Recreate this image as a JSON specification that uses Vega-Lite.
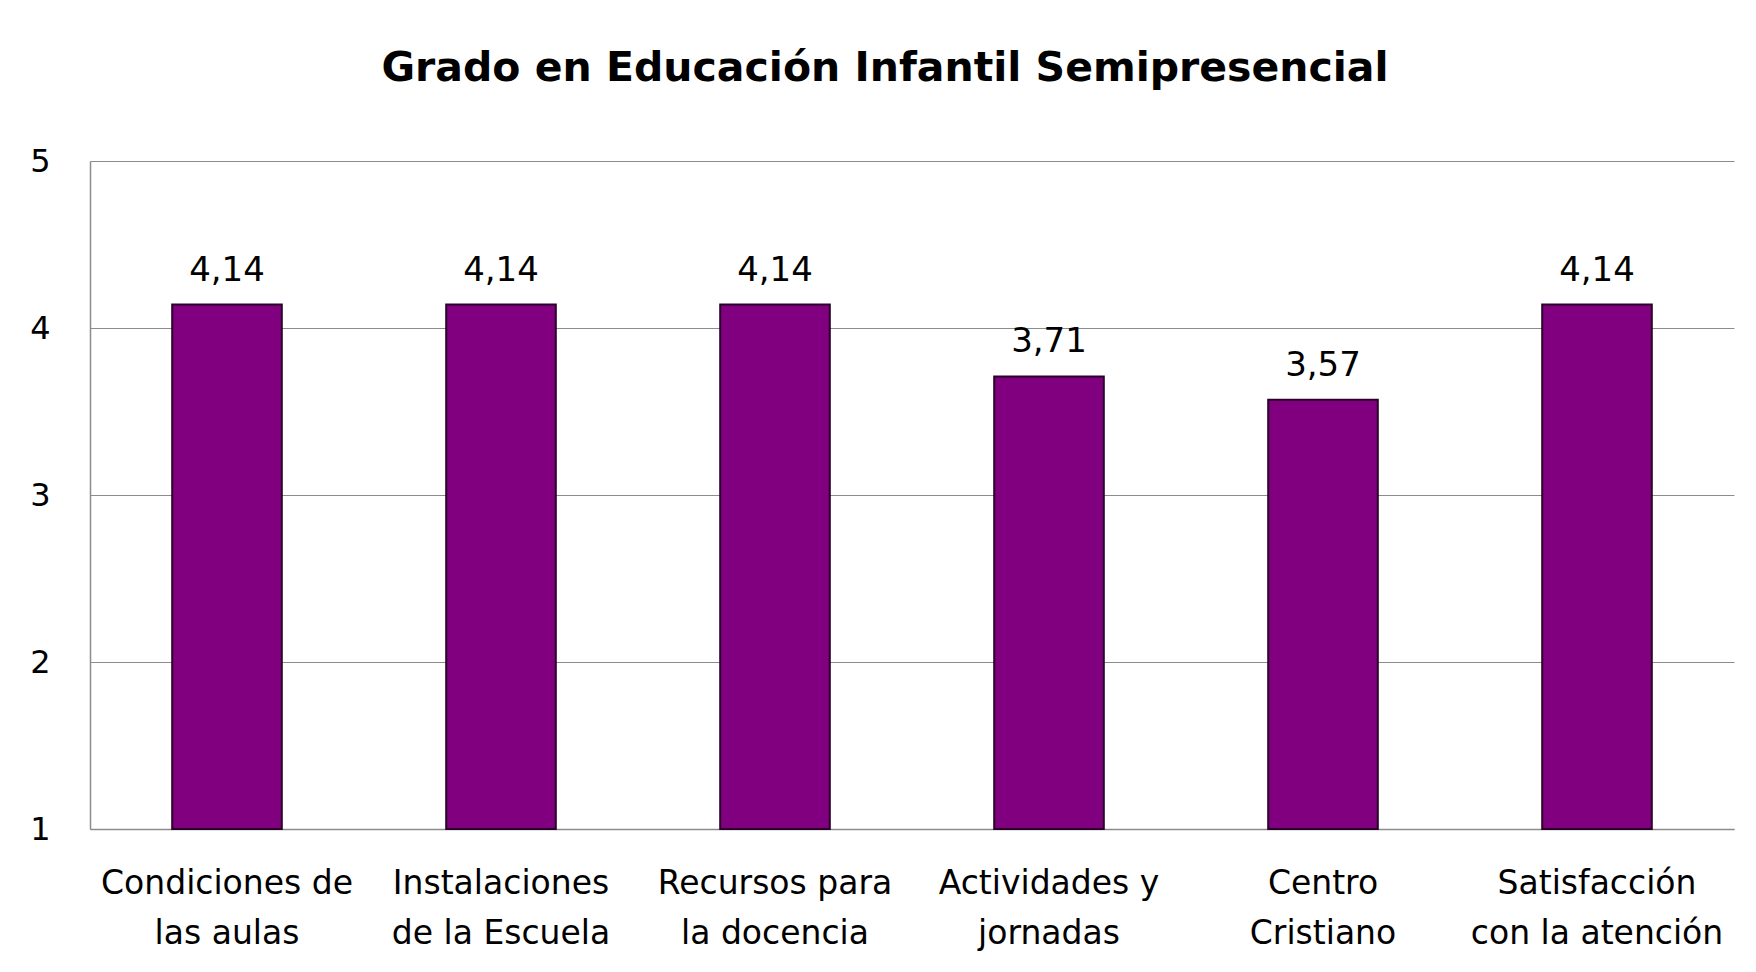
{
  "$schema": "https://vega.github.io/schema/vega-lite/v6.json",
  "autosize": "none",
  "width": 1644,
  "height": 668,
  "padding": {"left": 90, "top": 161, "right": 22, "bottom": 143},
  "background": "white",
  "config": {
    "locale": {"number": {"decimal": ",", "thousands": ".", "grouping": [3], "currency": ["", " €"]}},
    "view": {"stroke": null},
    "font": "DejaVu Sans"
  },
  "title": {
    "text": "Grado en Educación Infantil Semipresencial",
    "fontSize": 41,
    "fontWeight": "bold",
    "font": "DejaVu Sans",
    "color": "#000000",
    "anchor": "middle",
    "offset": 55,
    "dx": -27
  },
  "data": {
    "values": [
      {"categoria": "Condiciones de\nlas aulas", "valor": 4.14},
      {"categoria": "Instalaciones\nde la Escuela", "valor": 4.14},
      {"categoria": "Recursos para\nla docencia", "valor": 4.14},
      {"categoria": "Actividades y\njornadas", "valor": 3.71},
      {"categoria": "Centro\nCristiano", "valor": 3.57},
      {"categoria": "Satisfacción\ncon la atención", "valor": 4.14}
    ]
  },
  "encoding": {
    "x": {
      "field": "categoria",
      "type": "nominal",
      "sort": null,
      "scale": {"paddingInner": 0.6, "paddingOuter": 0.3},
      "axis": {
        "title": null,
        "labelAngle": 0,
        "labelExpr": "split(datum.value, '\\n')",
        "labelFontSize": 33,
        "labelLimit": 0,
        "labelColor": "#000000",
        "labelLineHeight": 50,
        "labelPadding": 38,
        "ticks": false,
        "domainColor": "#8c8c8c",
        "domainWidth": 1.5,
        "grid": false
      }
    },
    "y": {
      "field": "valor",
      "type": "quantitative",
      "scale": {"domain": [1, 5], "zero": false, "nice": false},
      "axis": {
        "title": null,
        "values": [1, 2, 3, 4, 5],
        "format": "d",
        "labelFontSize": 32,
        "labelColor": "#000000",
        "labelPadding": 40,
        "ticks": false,
        "domainColor": "#8c8c8c",
        "domainWidth": 1.5,
        "gridColor": "#8c8c8c",
        "gridWidth": 1.2
      }
    }
  },
  "layer": [
    {
      "mark": {"type": "bar", "fill": "#800080", "stroke": "#2a002a", "strokeWidth": 2},
      "encoding": {"y2": {"datum": 1}}
    },
    {
      "mark": {"type": "text", "baseline": "alphabetic", "dy": -24, "fontSize": 34, "color": "#000000"},
      "encoding": {
        "text": {"field": "valor", "type": "quantitative", "format": ".2f"}
      }
    }
  ]
}
